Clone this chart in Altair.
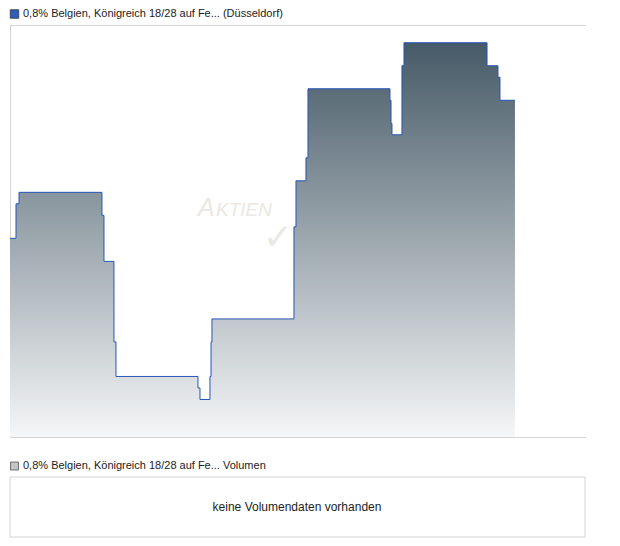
import altair as alt
import pandas as pd

# ---- data ----
days = [12.0, 12.0625, 12.094, 12.958, 12.979, 13.083, 13.104, 13.958, 13.979,
        14.083, 14.094, 14.104, 14.958, 14.979, 15.083, 15.104, 15.958, 15.969,
        15.979, 16.083, 16.104, 16.969, 17.083, 17.104, 17.26]
prices = [96.05, 96.08, 96.09, 96.07, 96.03, 95.96, 95.93, 95.92, 95.91,
          95.93, 95.96, 95.98, 96.06, 96.10, 96.12, 96.18, 96.17, 96.15,
          96.14, 96.20, 96.22, 96.20, 96.19, 96.17, 96.17]
x_ticks = [13, 14, 15, 16, 17]
y_ticks = [95.88, 95.90, 95.92, 95.94, 95.96, 95.98, 96.00, 96.02, 96.04,
           96.06, 96.08, 96.10, 96.12, 96.14, 96.16, 96.18, 96.20, 96.22]
price_title = "0,8% Belgien, Königreich 18/28 auf Fe... (Düsseldorf)"
volume_title = "0,8% Belgien, Königreich 18/28 auf Fe... Volumen"
volume_msg = "keine Volumendaten vorhanden"
wm_first = "A"
wm_rest = "KTIEN"

W, H = 576, 412
FONT = "Liberation Sans"
LINE = "#2456b8"
WM = "#ebe7e2"

df = pd.DataFrame({"day": days, "price": prices})

xscale = alt.Scale(domain=[12, 18], nice=False, zero=False)
yscale = alt.Scale(domain=[95.8774, 96.2354], nice=False, zero=False)

x = alt.X("day:Q", scale=xscale,
          axis=alt.Axis(values=x_ticks, labelExpr="datum.value + '.'", title=None,
                        grid=True, gridColor="#dedede", ticks=False, domain=False,
                        labelPadding=5, labelFontSize=11, labelFont=FONT,
                        labelColor="#222", labelOverlap=False))
y = alt.Y("price:Q", scale=yscale, stack=None,
          axis=alt.Axis(orient="right", values=y_ticks, title=None,
                        labelExpr="replace(format(datum.value, '.2f'), '.', ',')",
                        grid=True, gridColor="#dedede", ticks=True, tickSize=3,
                        tickColor="#dedede", domain=False, labelPadding=3,
                        labelFontSize=11, labelFont=FONT, labelColor="#222",
                        labelOverlap=False, labelBound=False, labelFlush=False,
                        labelSeparation=0))

grad = alt.Gradient(
    gradient="linear",
    stops=[alt.GradientStop(color="#465a67", offset=0),
           alt.GradientStop(color="#f5f6f7", offset=1)],
    x1=1, x2=1, y1=0, y2=1)

area = alt.Chart(df).mark_area(interpolate="step-after", color=grad, opacity=1).encode(
    x=x, y=y, y2=alt.value(H))
line = alt.Chart(df).mark_line(interpolate="step-after", color=LINE, strokeWidth=1).encode(
    x=alt.X("day:Q", scale=xscale, axis=None),
    y=alt.Y("price:Q", scale=yscale, stack=None, axis=None))

wm1 = alt.Chart(pd.DataFrame({"t": [wm_first]})).mark_text(
    font=FONT, fontSize=25, fontStyle="italic", color=WM, align="left",
    baseline="alphabetic").encode(x=alt.value(188), y=alt.value(191), text="t")
wm2 = alt.Chart(pd.DataFrame({"t": [wm_rest]})).mark_text(
    font=FONT, fontSize=19, fontStyle="italic", color=WM, align="left",
    baseline="alphabetic").encode(x=alt.value(206), y=alt.value(191), text="t")
check = alt.Chart(pd.DataFrame({"t": ["✓"]})).mark_text(
    font="DejaVu Sans", fontSize=36, fontWeight="bold", color=WM, align="center",
    baseline="middle").encode(x=alt.value(268), y=alt.value(213), text="t")

sq1 = alt.Chart(pd.DataFrame({"t": [price_title]})).mark_square(
    size=72, fill="#2c5fbf", stroke="#333", strokeWidth=0.8, opacity=1).encode(
    x=alt.value(4.5), y=alt.value(-11))
t1 = alt.Chart(pd.DataFrame({"t": [price_title]})).mark_text(
    font=FONT, fontSize=11, color="#222", align="left", baseline="middle").encode(
    x=alt.value(13), y=alt.value(-11), text="t")

box = alt.Chart(pd.DataFrame({"t": [volume_msg]})).mark_rect(
    fill="white", stroke="#d4d4d4", strokeWidth=1).encode(
    x=alt.value(0), x2=alt.value(W - 1), y=alt.value(452), y2=alt.value(512))
sq2 = alt.Chart(pd.DataFrame({"t": [volume_title]})).mark_square(
    size=64, fill="#c4c4c4", stroke="#555", strokeWidth=0.8, opacity=1).encode(
    x=alt.value(4.5), y=alt.value(441))
t2 = alt.Chart(pd.DataFrame({"t": [volume_title]})).mark_text(
    font=FONT, fontSize=11, color="#222", align="left", baseline="middle").encode(
    x=alt.value(13), y=alt.value(441), text="t")
t3 = alt.Chart(pd.DataFrame({"t": [volume_msg]})).mark_text(
    font=FONT, fontSize=12, color="#222", align="center", baseline="middle").encode(
    x=alt.value(287), y=alt.value(482), text="t")

chart = alt.layer(wm1, wm2, check, area, line, sq1, t1, box, sq2, t2, t3).properties(
    width=W, height=H, padding=0, background="white"
).configure_view(stroke="#d4d4d4", strokeWidth=1
).configure_axis(labelOverlap=False)

chart.save("out.html", embed_options={"renderer": "svg", "actions": False})
